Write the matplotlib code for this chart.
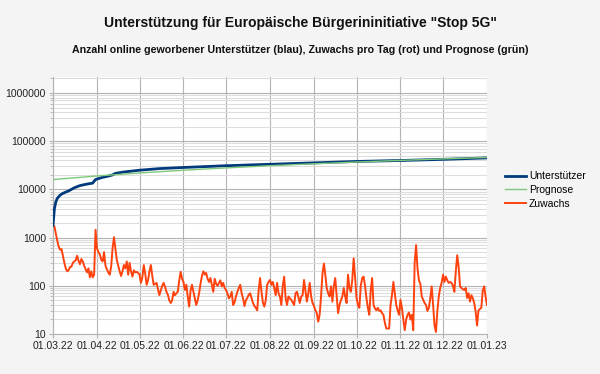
import numpy as np
import pandas as pd
import matplotlib
matplotlib.use("Agg")
import matplotlib.pyplot as plt
import matplotlib.dates as mdates
from matplotlib.ticker import FixedLocator, LogLocator, NullFormatter

# daily growth (Zuwachs), 01.03.22 .. 01.01.23
zuwachs_mar = [1800, 1700, 1200, 870, 650, 560, 580, 420, 300, 230, 200, 210, 245, 250,
               300, 320, 340, 420, 330, 280, 360, 320, 260, 220, 190, 230, 150, 200, 150,
               170, 1450]
zuwachs_apr = [600, 500, 450, 350, 320, 500, 260, 220, 190, 170, 250, 600, 1020, 600, 340,
               260, 200, 160, 200, 270, 230, 320, 170, 300, 200, 155, 210, 190, 195, 185]
zuwachs_may = [170, 115, 150, 270, 180, 105, 130, 200, 270, 160, 105, 110, 115, 85, 64, 80,
               100, 115, 95, 75, 65, 50, 44, 50, 75, 64, 70, 76, 130, 195, 140]
zuwachs_jun = [120, 82, 105, 60, 37, 80, 105, 75, 55, 40, 50, 70, 110, 160, 200, 170, 185,
               140, 120, 145, 105, 75, 140, 110, 100, 115, 130, 97, 115, 90]
zuwachs_jul = [82, 70, 55, 60, 75, 40, 45, 60, 75, 90, 105, 70, 55, 38, 50, 56, 65, 70, 55,
               44, 38, 35, 31, 80, 145, 75, 45, 37, 50, 105, 120]
zuwachs_aug = [132, 105, 120, 90, 64, 115, 70, 60, 40, 100, 155, 56, 40, 60, 55, 51, 45, 40,
               70, 75, 59, 44, 60, 64, 132, 80, 47, 70, 115, 60, 44]
zuwachs_sep = [38, 31, 27, 18, 25, 60, 180, 290, 170, 90, 70, 60, 97, 47, 100, 145, 64, 27,
               40, 50, 60, 90, 60, 44, 170, 90, 75, 132, 370, 150]
zuwachs_oct = [56, 40, 35, 100, 145, 155, 100, 56, 35, 25, 80, 145, 40, 34, 31, 35, 30, 31,
               27, 25, 17, 13, 13, 13, 40, 64, 120, 70, 40, 31, 25]
zuwachs_nov = [51, 35, 20, 12, 20, 25, 28, 20, 25, 12, 300, 700, 230, 130, 110, 60, 51, 44,
               40, 30, 35, 55, 97, 40, 15, 11, 30, 60, 90, 115]
zuwachs_dec = [170, 120, 155, 130, 115, 120, 115, 100, 75, 200, 430, 250, 97, 90, 85, 82, 90,
               56, 70, 47, 64, 55, 44, 29, 15, 31, 33, 35, 80, 97, 60, 40]
zuwachs = (zuwachs_mar + zuwachs_apr + zuwachs_may + zuwachs_jun + zuwachs_jul + zuwachs_aug
           + zuwachs_sep + zuwachs_oct + zuwachs_nov + zuwachs_dec)
zuwachs_dates = pd.date_range("2022-03-01", periods=len(zuwachs), freq="D")

# supporters (Unterstützer)
unterstuetzer_dates = pd.to_datetime([
    "2022-03-01", "2022-03-02", "2022-03-03", "2022-03-04", "2022-03-06", "2022-03-08",
    "2022-03-12", "2022-03-16", "2022-03-20", "2022-03-25", "2022-03-29", "2022-03-30",
    "2022-03-31", "2022-04-04", "2022-04-09", "2022-04-12", "2022-04-14", "2022-04-20",
    "2022-05-01", "2022-05-15", "2022-06-01", "2022-07-01", "2022-08-01", "2022-09-01",
    "2022-10-01", "2022-11-01", "2022-12-01", "2023-01-01"])
unterstuetzer = [1800, 4000, 5500, 6500, 7600, 8300, 9300, 10800, 12000, 12900, 13500, 14800,
                 16000, 17500, 18900, 20000, 21500, 23000, 25000, 27000, 28500, 31000, 33200,
                 35500, 38000, 39800, 42000, 45000]

# forecast (Prognose)
prognose_dates = pd.date_range("2022-03-01", "2023-01-01", freq="MS")
prognose = [16000, 19000, 21900, 25000, 27900, 31000, 34000, 37000, 40000, 42900, 46000]

title = 'Unterstützung für Europäische Bürgerininitiative "Stop 5G"'
subtitle = "Anzahl online geworbener Unterstützer (blau), Zuwachs pro Tag (rot) und Prognose (grün)"

plt.rcParams["font.family"] = ["Liberation Sans", "DejaVu Sans"]

fig = plt.figure(figsize=(6, 3.74), dpi=100, facecolor="#f4f4f4")
ax = fig.add_axes([53 / 600, 1 - 334 / 374, 434 / 600, 257 / 374])
ax.set_facecolor("white")

ax.plot(unterstuetzer_dates, unterstuetzer, color="#003a7d", linewidth=2.0,
        label="Unterstützer", zorder=4)
ax.plot(prognose_dates, prognose, color="#7ec87a", linewidth=1.0, label="Prognose", zorder=5)
ax.plot(zuwachs_dates, zuwachs, color="#ff420e", linewidth=1.4, label="Zuwachs", zorder=3)

ax.set_yscale("log")
ax.set_ylim(10, 10 ** (6 + 16 / 48.2))
ax.set_xlim(pd.Timestamp("2022-03-01"), pd.Timestamp("2023-01-01"))

yticks = [10, 100, 1000, 10000, 100000, 1000000]
ax.yaxis.set_major_locator(FixedLocator(yticks))
ax.set_yticklabels([str(v) for v in yticks])
ax.yaxis.set_minor_locator(LogLocator(base=10, subs=np.arange(2, 10)))
ax.yaxis.set_minor_formatter(NullFormatter())

ax.xaxis.set_major_locator(mdates.MonthLocator())
ax.xaxis.set_major_formatter(mdates.DateFormatter("%d.%m.%y"))

ax.grid(True, which="major", axis="both", color="#b3b3b3", linewidth=0.8)
ax.grid(True, which="minor", axis="y", color="#dddddd", linewidth=0.8)
ax.set_axisbelow(True)

for side in ["top", "right"]:
    ax.spines[side].set_visible(False)
for side in ["left", "bottom"]:
    ax.spines[side].set_color("#b3b3b3")
    ax.spines[side].set_linewidth(0.8)

ax.tick_params(axis="both", which="major", length=3, color="#b3b3b3", labelsize=7.5,
               labelcolor="#222222", pad=2)
ax.tick_params(axis="y", which="minor", length=2, color="#b3b3b3")

fig.text(0.5, 1 - 23 / 374, title, ha="center", va="center", fontsize=10,
         fontweight="bold", color="#111111")
fig.text(0.5, 1 - 50 / 374, subtitle, ha="center", va="center", fontsize=7.7,
         fontweight="bold", color="#111111")

fig.legend(loc="center left", bbox_to_anchor=(505 / 600, 1 - 190 / 374), frameon=False,
           fontsize=7.5, handlelength=2.0, handletextpad=0.3, labelspacing=0.35,
           borderpad=0, borderaxespad=0)

fig.savefig("out.png", dpi=100, facecolor=fig.get_facecolor())
